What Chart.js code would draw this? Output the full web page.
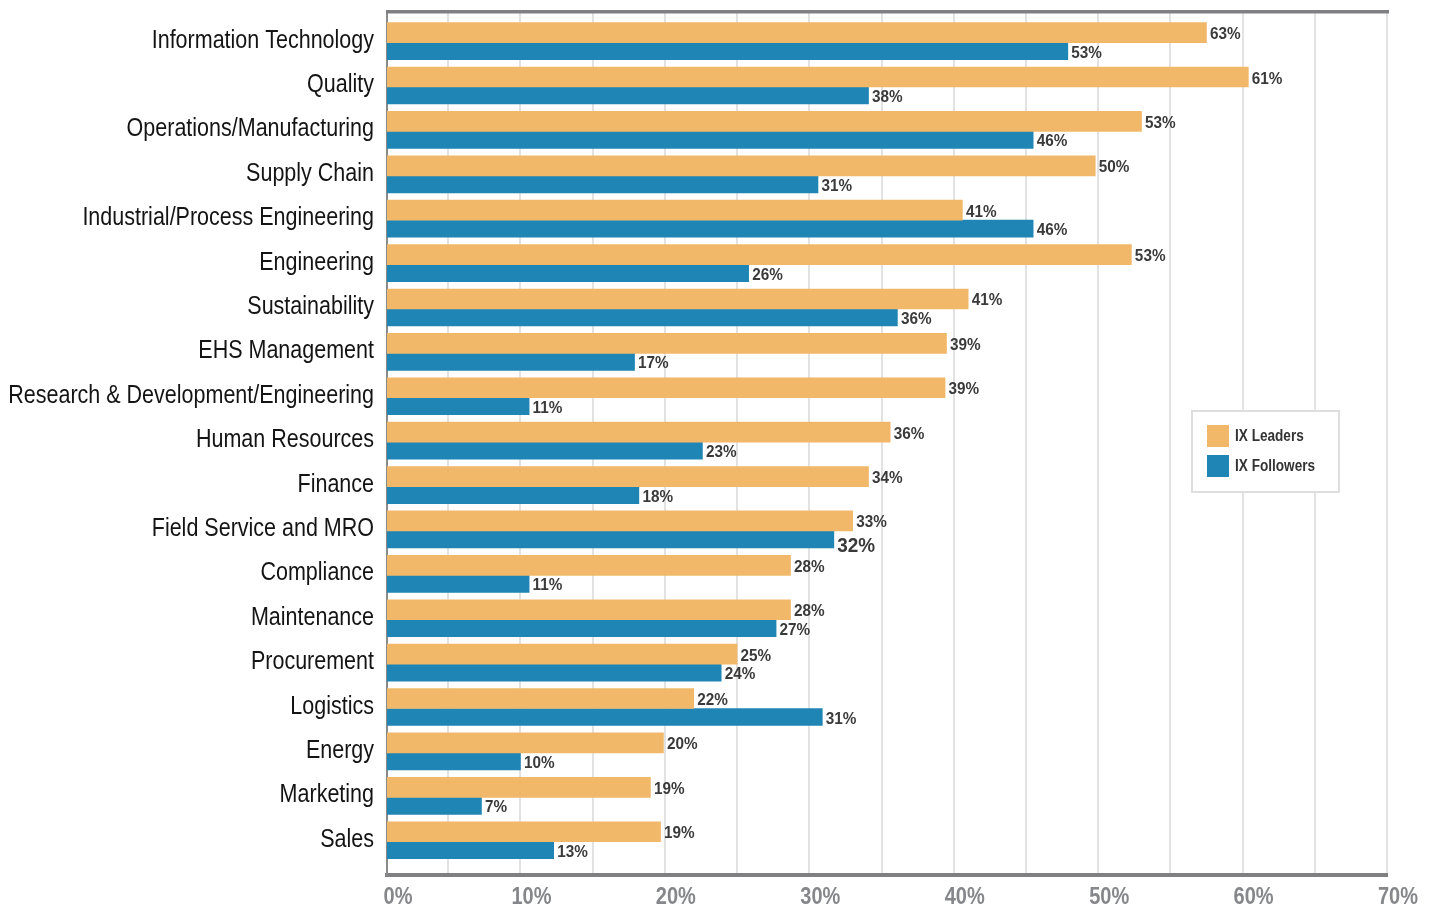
<!doctype html>
<html lang="en">
<head>
<meta charset="utf-8">
<title>IX Leaders vs IX Followers</title>
<script src="https://cdn.jsdelivr.net/npm/chart.js@4.4.1/dist/chart.umd.min.js"></script>
<style>
  html, body { margin: 0; padding: 0; background: #fff; overflow: hidden; }
  #wrap { position: relative; width: 1434px; height: 908px; }
</style>
</head>
<body>
<div id="wrap"><canvas id="myChart"></canvas></div>
<script>
// categories, top to bottom
var categories = [
  'Information Technology', 'Quality', 'Operations/Manufacturing', 'Supply Chain',
  'Industrial/Process Engineering', 'Engineering', 'Sustainability', 'EHS Management',
  'Research & Development/Engineering', 'Human Resources', 'Finance', 'Field Service and MRO',
  'Compliance', 'Maintenance', 'Procurement', 'Logistics', 'Energy', 'Marketing', 'Sales'
]

// bar lengths as drawn in the picture (%)
var leaders   = [57.5, 60.4, 53.0, 49.8, 40.6, 52.3, 41.0, 39.5, 39.4, 35.6, 34.1, 33.0, 28.7, 28.7, 25.0, 22.0, 19.9, 19.0, 19.7]
var followers = [47.9, 34.1, 45.5, 30.6, 45.5, 25.8, 36.1, 17.9, 10.6, 22.6, 18.2, 31.7, 10.6, 27.7, 23.9, 30.9, 10.0, 7.3, 12.3]

// printed value labels (%)
var leaderLabels   = [63, 61, 53, 50, 41, 53, 41, 39, 39, 36, 34, 33, 28, 28, 25, 22, 20, 19, 19]
var followerLabels = [53, 38, 46, 31, 46, 26, 36, 17, 11, 23, 18, 32, 11, 27, 24, 31, 10, 7, 13]

var xTickLabels = ['0%', '10%', '20%', '30%', '40%', '50%', '60%', '70%']
var gridValues = [0, 5, 10, 15, 20, 25, 30, 35, 40, 45, 50, 55, 60, 65, 70]

// the original uses a condensed face; squeeze Liberation Sans to get close
var sans = '"Liberation Sans", Arial, sans-serif'
var orange = '#f2b86a'
var blue = '#1f85b5'
var bigLabel = { dataset: 1, index: 11 }   // the 32% label is set larger

function squeezedText(ctx, text, x, y, squeeze, align) {
  var w = ctx.measureText(text).width * squeeze
  var x0 = align === 'right' ? x - w : (align === 'center' ? x - w / 2 : x)
  ctx.textAlign = 'left'
  ctx.fillText(text, x0, y, w)
}

var textLayer = {
  id: 'textLayer',
  afterDraw: function(chart) {
    var ctx = chart.ctx
    var a = chart.chartArea
    var xs = chart.scales.x
    var ys = chart.scales.y
    ctx.save()
    ctx.textBaseline = 'alphabetic'

    // top frame line
    ctx.fillStyle = '#808083'
    ctx.fillRect(a.left - 1, a.top - 2, a.right - a.left + 3, 3.5)

    // category labels
    ctx.fillStyle = '#141414'
    ctx.font = '25px ' + sans
    categories.forEach(function(c, i) {
      squeezedText(ctx, c, a.left - 13, ys.getPixelForValue(i) + 5, 0.86, 'right')
    })

    // x tick labels
    ctx.fillStyle = '#86878b'
    ctx.font = 'bold 23px ' + sans
    xTickLabels.forEach(function(t, i) {
      var px = xs.getPixelForValue(Math.max(i * 10, xs.min))
      squeezedText(ctx, t, px + 11, 904, 0.87, 'center')
    })

    // value labels
    var texts = [leaderLabels, followerLabels]
    ctx.fillStyle = '#3a3a3a'
    chart.data.datasets.forEach(function(ds, d) {
      chart.getDatasetMeta(d).data.forEach(function(bar, i) {
        var big = d === bigLabel.dataset && i === bigLabel.index
        ctx.font = 'bold ' + (big ? 21 : 17) + 'px ' + sans
        squeezedText(ctx, texts[d][i] + '%', bar.x + 3.5, bar.y + (big ? 12.5 : 6.5), 0.9, 'left')
      })
    })

    // legend box
    var bx = 1192, by = 411, bw = 147, bh = 81
    ctx.fillStyle = '#ffffff'
    ctx.fillRect(bx, by, bw, bh)
    ctx.strokeStyle = '#dedede'
    ctx.lineWidth = 2
    ctx.strokeRect(bx, by, bw, bh)
    ctx.font = 'bold 16px ' + sans
    chart.data.datasets.forEach(function(ds, d) {
      var y = 425 + d * 30
      ctx.fillStyle = ds.backgroundColor
      ctx.fillRect(1207, y, 22, 22)
      ctx.fillStyle = '#333333'
      squeezedText(ctx, ds.label, 1235, y + 15.7, 0.85, 'left')
    })
    ctx.restore()
  }
}

var chart = new Chart(document.getElementById('myChart').getContext('2d'), {
  type: 'bar',
  data: {
    datasets: [
      {
        label: 'IX Leaders',
        data: leaders.map(function(v, i) { return { x: v, y: i } }),
        backgroundColor: orange,
        barThickness: 20
      },
      {
        label: 'IX Followers',
        data: followers.map(function(v, i) { return { x: v, y: i } }),
        backgroundColor: blue,
        barThickness: 17
      }
    ]
  },
  options: {
    indexAxis: 'y',
    responsive: true,
    maintainAspectRatio: false,
    animation: false,
    events: [],
    layout: { padding: { top: 12, right: 47, left: 0, bottom: 0 } },
    plugins: {
      legend: { display: false },
      tooltip: { enabled: false }
    },
    scales: {
      x: {
        type: 'linear',
        position: 'bottom',
        min: 0.76,
        max: 70,
        afterFit: function(s) { s.height = 33 },
        afterBuildTicks: function(s) {
          s.ticks = gridValues.map(function(v) { return { value: Math.max(v, s.min) } })
        },
        grid: { color: '#e2e2e2', lineWidth: 2, drawTicks: false },
        border: { color: '#808083', width: 4 },
        ticks: { display: false }
      },
      y: {
        type: 'linear',
        reverse: true,
        offset: false,
        min: -0.69,
        max: 18.75,
        afterFit: function(s) { s.width = 387 },
        grid: { display: false, drawTicks: false, offset: false },
        border: { color: '#8a8a8a', width: 2 },
        ticks: { display: false }
      }
    }
  },
  plugins: [textLayer]
})
</script>
</body>
</html>
